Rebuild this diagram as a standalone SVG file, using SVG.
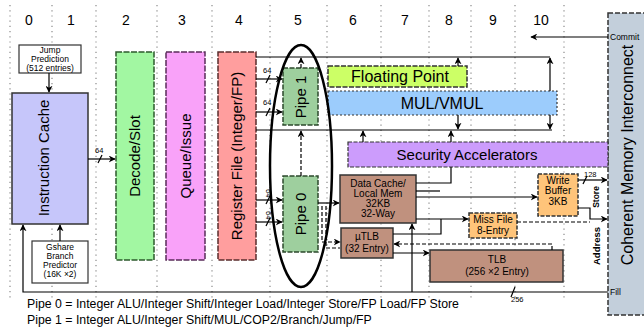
<svg xmlns="http://www.w3.org/2000/svg" width="644" height="328" viewBox="0 0 644 328">
  <defs>
    <marker id="ah" viewBox="0 0 10 10" refX="9" refY="5" markerWidth="7" markerHeight="7" orient="auto-start-reverse" markerUnits="userSpaceOnUse">
      <path d="M0,0 L10,5 L0,10 L3,5 z" fill="#000"/>
    </marker>
    <style>
      text { font-family: "Liberation Sans", Arial, sans-serif; fill: #000; }
      .grid line { stroke: #8a8a8a; stroke-width: 1.2; stroke-dasharray: 1.2 4; }
      .col { font-size: 14px; text-anchor: middle; }
      .box { stroke: #333; stroke-width: 1.5; }
      .big { font-size: 15px; text-anchor: middle; }
      .sm { font-size: 8.5px; text-anchor: middle; }
      .md { font-size: 10px; text-anchor: middle; }
      .tiny { font-size: 7.5px; }
      .wire { fill: none; stroke: #000; stroke-width: 1.2; }
      .dash { stroke-dasharray: 4 2; }
      .arr { marker-end: url(#ah); }
    </style>
  </defs>

  <rect width="644" height="328" fill="#fff"/>

  <!-- pipeline stage columns -->
  <g class="grid">
    <line x1="10" y1="5" x2="10" y2="298"/>
    <line x1="52" y1="5" x2="52" y2="298"/>
    <line x1="96" y1="5" x2="96" y2="298"/>
    <line x1="157" y1="5" x2="157" y2="298"/>
    <line x1="212" y1="5" x2="212" y2="298"/>
    <line x1="270" y1="5" x2="270" y2="298"/>
    <line x1="327" y1="5" x2="327" y2="298"/>
    <line x1="381" y1="5" x2="381" y2="298"/>
    <line x1="429" y1="5" x2="429" y2="298"/>
    <line x1="471" y1="5" x2="471" y2="298"/>
    <line x1="515" y1="5" x2="515" y2="298"/>
    <line x1="564" y1="5" x2="564" y2="298"/>
  </g>
  <g id="stage-numbers">
    <text class="col" x="29" y="25">0</text>
    <text class="col" x="71" y="25">1</text>
    <text class="col" x="126" y="25">2</text>
    <text class="col" x="182" y="25">3</text>
    <text class="col" x="239" y="25">4</text>
    <text class="col" x="298" y="25">5</text>
    <text class="col" x="353" y="25">6</text>
    <text class="col" x="405" y="25">7</text>
    <text class="col" x="449" y="25">8</text>
    <text class="col" x="493" y="25">9</text>
    <text class="col" x="541" y="25">10</text>
  </g>

  <!-- nodes -->
  <g id="interconnect">
    <rect x="608" y="13" width="40" height="302" fill="#c3cfdb" stroke="#333" stroke-width="1.5" stroke-dasharray="5 2"/>
    <text class="big" style="font-size:16px" transform="translate(633,155) rotate(-90)">Coherent Memory Interconnect</text>
    <text class="tiny" x="610" y="40" style="font-size:8.5px">Commit</text>
    <text class="tiny" x="610" y="295" style="font-size:8.5px">Fill</text>
  </g>

  <g id="jump-prediction">
    <rect x="19" y="45" width="62" height="28" fill="#fff" stroke="#333" stroke-width="1.2"/>
    <text class="sm" x="50" y="53">Jump</text>
    <text class="sm" x="50" y="62">Prediction</text>
    <text class="sm" x="50" y="71">(512 entries)</text>
  </g>

  <g id="instruction-cache">
    <rect class="box" x="12" y="93" width="76" height="131" fill="#c6c6fa"/>
    <text class="big" transform="translate(49,158) rotate(-90)">Instruction Cache</text>
  </g>

  <g id="gshare">
    <rect x="32" y="241" width="56" height="42" fill="#fff" stroke="#333" stroke-width="1.2"/>
    <text class="sm" x="60" y="250">Gshare</text>
    <text class="sm" x="60" y="259">Branch</text>
    <text class="sm" x="60" y="268">Predictor</text>
    <text class="sm" x="60" y="277">(16K ×2)</text>
  </g>

  <g id="decode">
    <rect x="116" y="52" width="38" height="208" fill="#a2f7a2" stroke="#2d5a2d" stroke-width="1.5" stroke-dasharray="6 1.5"/>
    <text class="big" transform="translate(140,156) rotate(-90)">Decode/Slot</text>
  </g>

  <g id="queue">
    <rect x="166" y="52" width="39" height="208" fill="#f9a2f9" stroke="#5a2d5a" stroke-width="1.5" stroke-dasharray="6 1.5"/>
    <text class="big" transform="translate(191,156) rotate(-90)">Queue/Issue</text>
  </g>

  <g id="register-file">
    <rect x="218" y="52" width="38" height="208" fill="#ff9e9e" stroke="#5a2d2d" stroke-width="1.5" stroke-dasharray="6 1.5"/>
    <text class="big" transform="translate(242,156) rotate(-90)">Register File (Integer/FP)</text>
  </g>

  <g id="pipe1">
    <rect x="283" y="68" width="35" height="57" fill="#9ecf9e" stroke="#2d4a2d" stroke-width="1.5" stroke-dasharray="5 1.5"/>
    <text class="big" transform="translate(306,97) rotate(-90)">Pipe 1</text>
  </g>

  <g id="pipe0">
    <rect x="283" y="176" width="35" height="76" fill="#9ecf9e" stroke="#2d4a2d" stroke-width="1.5" stroke-dasharray="5 1.5"/>
    <text class="big" transform="translate(306,214) rotate(-90)">Pipe 0</text>
  </g>

  <g id="floating-point">
    <rect x="328" y="66" width="139" height="21" fill="#ccff66" stroke="#333" stroke-width="1.5" stroke-dasharray="5 1.5"/>
    <text class="big" x="400" y="82" style="font-size:16px">Floating Point</text>
  </g>

  <g id="mul">
    <rect x="328" y="91" width="229" height="24" fill="#9cccfc" stroke="#333" stroke-width="1.2" stroke-dasharray="2 2"/>
    <text class="big" x="442" y="109" style="font-size:16px">MUL/VMUL</text>
  </g>

  <g id="security">
    <rect x="348" y="142" width="260" height="25" fill="#cc9cfc" stroke="#333" stroke-width="1.2" stroke-dasharray="4 1.5"/>
    <text class="big" x="467" y="160">Security Accelerators</text>
  </g>

  <g id="data-cache">
    <rect x="340" y="175" width="76" height="48" fill="#c0917e" stroke="#333" stroke-width="1.5"/>
    <text class="md" x="378" y="187">Data Cache/</text>
    <text class="md" x="378" y="197">Local Mem</text>
    <text class="md" x="378" y="207">32KB</text>
    <text class="md" x="378" y="217">32-Way</text>
  </g>

  <g id="utlb">
    <rect x="341" y="228" width="52" height="30" fill="#c0917e" stroke="#333" stroke-width="1.5"/>
    <text class="md" x="367" y="240">µTLB</text>
    <text class="md" x="367" y="252">(32 Entry)</text>
  </g>

  <g id="tlb">
    <rect x="430" y="250" width="133" height="32" fill="#c0917e" stroke="#333" stroke-width="1.5"/>
    <text class="md" x="497" y="263">TLB</text>
    <text class="md" x="497" y="275">(256 ×2 Entry)</text>
  </g>

  <g id="write-buffer">
    <rect x="538" y="174" width="40" height="42" fill="#ffc47a" stroke="#333" stroke-width="1.5" stroke-dasharray="4 1.5"/>
    <text class="md" x="558" y="184">Write</text>
    <text class="md" x="558" y="194">Buffer</text>
    <text class="md" x="558" y="205">3KB</text>
  </g>

  <g id="miss-file">
    <rect x="469" y="213" width="48" height="25" fill="#ffc47a" stroke="#333" stroke-width="1.5" stroke-dasharray="4 1.5"/>
    <text class="md" x="493" y="223">Miss File</text>
    <text class="md" x="493" y="234">8-Entry</text>
  </g>

  <!-- connectors -->
  <g id="connectors">
    <line class="wire arr" x1="49" y1="73" x2="49" y2="92"/>
    <line class="wire arr" x1="60" y1="241" x2="60" y2="225"/>
    <polyline class="wire arr" points="608,292 23,292 23,225"/>
    <line class="wire arr" x1="88" y1="159" x2="115" y2="159"/>
    <line class="wire" x1="98" y1="163" x2="102" y2="155"/>
    <text class="tiny" x="95" y="153">64</text>

    <!-- register file to pipes -->
    <line class="wire arr" x1="256" y1="79" x2="282" y2="79"/>
    <line class="wire arr" x1="256" y1="112" x2="282" y2="112"/>
    <line class="wire arr" x1="256" y1="200" x2="282" y2="200"/>
    <line class="wire arr" x1="256" y1="222" x2="282" y2="222"/>
    <line class="wire" x1="266" y1="83" x2="270" y2="75"/>
    <line class="wire" x1="266" y1="116" x2="270" y2="108"/>
    <line class="wire" x1="266" y1="204" x2="270" y2="196"/>
    <line class="wire" x1="266" y1="226" x2="270" y2="218"/>
    <text class="tiny" x="263" y="73">64</text>
    <text class="tiny" x="263" y="105">64</text>
    <text class="tiny" transform="translate(266,189) rotate(90)">64</text>
    <text class="tiny" transform="translate(266,211) rotate(90)">64</text>

    <!-- result buses -->
    <line class="wire" x1="256" y1="57" x2="550" y2="57"/>
    <line class="wire arr dash" x1="301" y1="68" x2="301" y2="58"/>
    <line class="wire arr" x1="458" y1="66" x2="458" y2="58"/>
    <line class="wire arr" x1="550" y1="91" x2="550" y2="58"/>
    <line class="wire" x1="256" y1="130" x2="552" y2="130"/>
    <line class="wire arr dash" x1="301" y1="176" x2="301" y2="131"/>
    <line class="wire arr" x1="363" y1="142" x2="363" y2="131"/>
    <line class="wire arr" x1="451" y1="142" x2="451" y2="131"/>
    <line class="wire arr" x1="458" y1="115" x2="458" y2="129"/>
    <line class="wire arr" x1="550" y1="115" x2="550" y2="129"/>

    <!-- load/store path -->
    <line class="wire arr" x1="318" y1="203" x2="339" y2="203"/>
    <polyline class="wire arr dash" points="322,206 322,242 340,242"/>
    <polyline class="wire dash" points="326,206 326,248 340,248"/>
    <polyline class="wire" points="416,183 451,183 451,167"/>
    <line class="wire" x1="416" y1="191" x2="440" y2="191"/>
    <line class="wire arr" x1="416" y1="197" x2="537" y2="197"/>
    <line class="wire arr" x1="416" y1="219" x2="468" y2="219"/>
    <polyline class="wire" points="393,234 441,234 441,219"/>
    <line class="wire arr" x1="412" y1="292" x2="412" y2="224"/>
    <line class="wire arr" x1="393" y1="253" x2="429" y2="253"/>
    <polyline class="wire arr dash" points="552,250 552,244 394,244"/>
    <line class="wire arr" x1="578" y1="180" x2="607" y2="180"/>
    <line class="wire" x1="583" y1="184" x2="587" y2="176"/>
    <text class="tiny" x="584" y="177">128</text>
    <polyline class="wire arr" points="578,208 590,208 590,219 607,219"/>
    <line class="wire dash" x1="517" y1="222" x2="590" y2="222"/>
    <line class="wire arr" x1="608" y1="37" x2="531" y2="37"/>
    <line class="wire" x1="511" y1="297" x2="515" y2="287"/>
    <text class="tiny" x="511" y="302">256</text>
    <text class="tiny" style="font-weight:bold;font-size:8.5px" text-anchor="middle" transform="translate(599,197) rotate(-90)">Store</text>
    <text class="tiny" style="font-weight:bold;font-size:9.5px" text-anchor="middle" transform="translate(600,246) rotate(-90)">Address</text>
  </g>

  <ellipse cx="301" cy="166" rx="31" ry="121" fill="none" stroke="#000" stroke-width="2.5"/>

  <g id="legend">
    <text x="27" y="308" style="font-size:12.3px">Pipe 0 = Integer ALU/Integer Shift/Integer Load/Integer Store/FP Load/FP Store</text>
    <text x="27" y="324" style="font-size:12.3px">Pipe 1 = Integer ALU/Integer Shift/MUL/COP2/Branch/Jump/FP</text>
  </g>
</svg>
